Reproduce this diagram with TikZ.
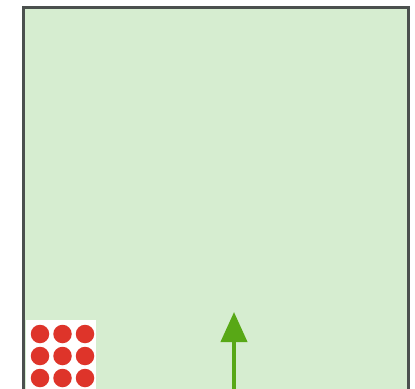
\documentclass[tikz,border=0pt]{standalone}
\usetikzlibrary{arrows.meta, positioning}
\definecolor{fieldgreen}{RGB}{214,237,208}
\definecolor{framegray}{RGB}{75,80,78}
\definecolor{dotred}{RGB}{222,52,42}
\definecolor{arrowgreen}{RGB}{88,168,22}

\begin{document}
\begin{tikzpicture}[
  x=0.2mm, y=-0.2mm,
  field/.style={draw=framegray, line width=0.6mm, fill=fieldgreen},
  dot/.style={circle, fill=dotred, inner sep=0pt, minimum size=3.7mm},
  arr/.style={-{Triangle[length=6mm, width=5.2mm]}, draw=arrowgreen, line width=0.8mm},
]
  % page
  \clip (0,0) rectangle (415,389);
  \fill[white] (0,0) rectangle (415,389);

  % green field, bottom edge runs off the page
  \draw[field] (23,8) rectangle (408,400);

  % corner with dots
  \fill[white] (26,320) rectangle (96,392);
  \foreach \r in {0,1,2}
    \foreach \c in {0,1,2}
      \node[dot] (d\r\c) at (40+22.5*\c, 334+22*\r) {};

  % arrow
  \coordinate (base) at (234,392);
  \coordinate (tip)  at (234,312);
  \draw[arr] (base) -- (tip);
\end{tikzpicture}
\end{document}
